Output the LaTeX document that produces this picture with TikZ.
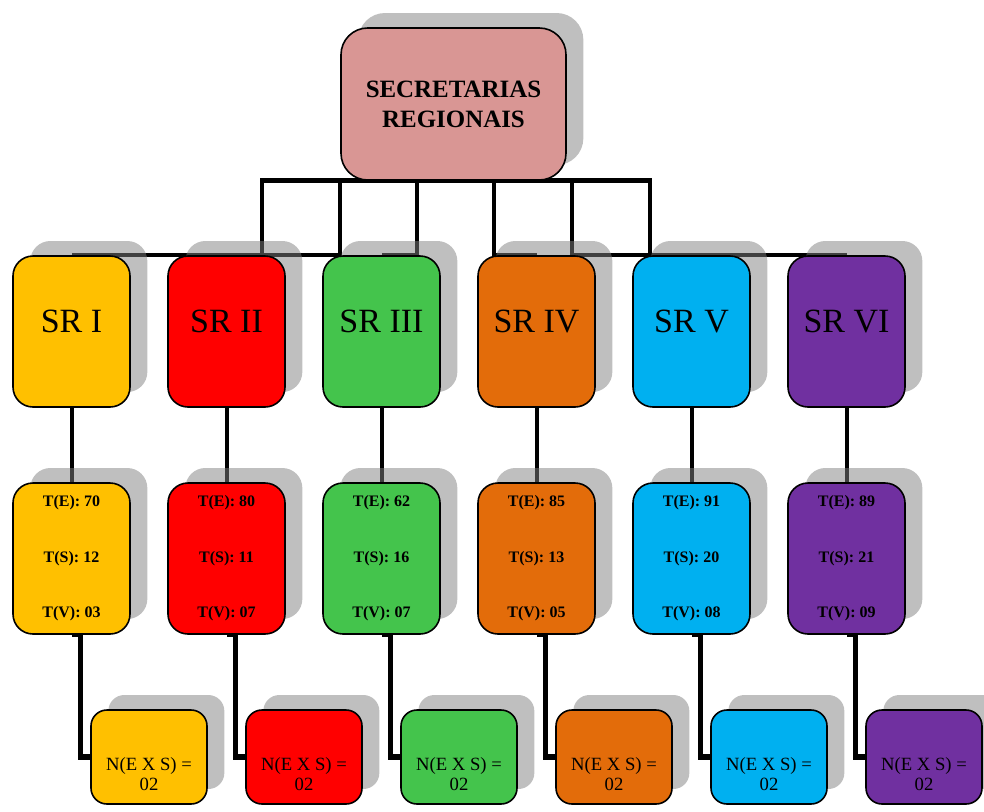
\documentclass[tikz,border=0pt]{standalone}
\usepackage{fontspec}
\setmainfont{Liberation Serif}
\usetikzlibrary{shadows}
\pgfdeclarelayer{bg}
\pgfsetlayers{bg,main}
\definecolor{cRoot}{HTML}{D99694}
\definecolor{cA}{HTML}{FFC000}
\definecolor{cB}{HTML}{FF0000}
\definecolor{cC}{HTML}{44C44C}
\definecolor{cD}{HTML}{E36C0A}
\definecolor{cE}{HTML}{00B0F0}
\definecolor{cF}{HTML}{7030A0}
\begin{document}
\begin{tikzpicture}[x=0.75pt,y=-0.75pt,
  shadowed/.style={general shadow={fill=black!50, opacity=0.5, shadow xshift=13pt, shadow yshift=11.25pt}},
  box/.style={shadowed, draw=black, line width=1.2pt, inner sep=0pt, align=center},
  rootbox/.style={box, fill=cRoot, rounded corners=20pt, minimum width=168.75pt, minimum height=114pt,
     font=\fontsize{18.7}{22.5}\selectfont\bfseries},
  srbox/.style={box, rounded corners=15pt, minimum width=87.75pt, minimum height=113.25pt},
  tbox/.style={box, rounded corners=15pt, minimum width=87.75pt, minimum height=113.25pt,
     font=\fontsize{12}{41.6}\selectfont\bfseries},
  nbox/.style={box, rounded corners=12pt, minimum width=87pt, minimum height=70.5pt},
  conn/.style={draw=black, line width=3.6pt, line join=miter},
  connm/.style={draw=black, line width=3pt},
  connb/.style={draw=black, line width=4pt, line join=miter}
]
\useasboundingbox (0,0) rectangle (984,811);

\node[rootbox] (root) at (453.5,104) {SECRETARIAS\\REGIONAIS};

\foreach \i/\c/\lab/\te/\ts/\tv/\kx in {
  1/cA/I/70/12/03/262,
  2/cB/II/80/11/07/340,
  3/cC/III/62/16/07/417,
  4/cD/IV/85/13/05/494,
  5/cE/V/91/20/08/572,
  6/cF/VI/89/21/09/650}{
  \pgfmathsetmacro{\cx}{71.5+155*(\i-1)}
  \pgfmathsetmacro{\nx}{149+155*(\i-1)}
  \node[srbox, fill=\c,
        label={[font=\fontsize{25.5}{30}\selectfont, yshift=7.5pt]center:SR \lab}] (sr\i) at (\cx,331.5) {};
  \node[tbox, fill=\c] (t\i) at (\cx,558.5) {T(E): \te\\T(S): \ts\\T(V): \tv};
  \node[nbox, fill=\c,
        label={[font=\fontsize{14}{15}\selectfont, align=center, yshift=-13pt]center:N(E X S) =\\02}] (n\i) at (\nx,757) {};
  \coordinate (k\i) at (\kx,255);
  \begin{pgfonlayer}{bg}
    \draw[conn] (root.south) -| (k\i) -- (k\i -| sr\i.north);
    \draw[connm] (sr\i.south) -- (t\i.north);
    \draw[connb] (t\i.south) -- ++(9,0) |- (n\i.west);
  \end{pgfonlayer}
}
\end{tikzpicture}
\end{document}
